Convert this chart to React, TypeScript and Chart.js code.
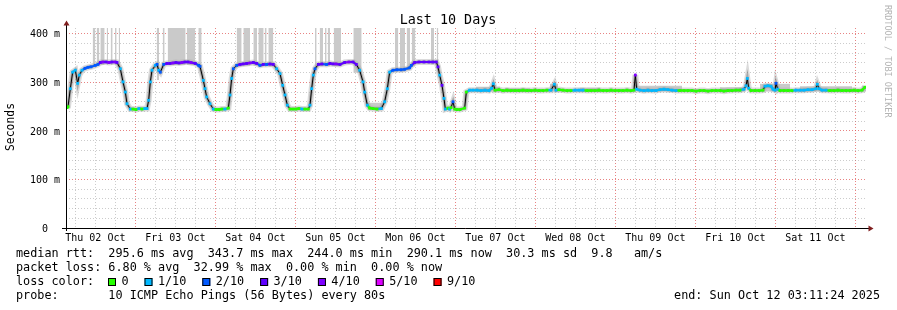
import React, { useEffect, useRef } from "react";
import { Chart, registerables } from "chart.js";

Chart.register(...registerables);

const FONT = "'DejaVu Sans Mono', monospace";

const TITLE = "Last 10 Days";
const Y_TITLE = "Seconds";
const WATERMARK = "RRDTOOL / TOBI OETIKER";
const SPAN_HOURS = 240;
const START_HOUR_OF_DAY = 3.19; // Thu 02 Oct 03:11:24
const Y_MAX = 412;
const Y_TICK_STEP = 20;
const Y_LABEL_STEP = 100;
const Y_LABEL_MAX = 400;
const DAY_LABELS = [
  "Thu 02 Oct", "Fri 03 Oct", "Sat 04 Oct", "Sun 05 Oct", "Mon 06 Oct",
  "Tue 07 Oct", "Wed 08 Oct", "Thu 09 Oct", "Fri 10 Oct", "Sat 11 Oct", "Sun 12 Oct",
];

// median RTT (ms) at hours since start, with loss level (index into LOSS_COLORS)
const MEDIAN_HOURS = [
  0.3, 0.6, 1.3, 2.0, 2.8, 3.5, 4.0, 4.8, 5.7, 6.6, 7.5, 8.8, 9.6, 10.3, 11.1, 12.0, 12.9, 13.8, 14.7, 15.3,
  16.3, 17.1, 17.8, 18.3, 19.3, 20.1, 21.0, 21.9, 22.8, 23.7, 24.3, 24.8, 25.3, 25.8, 26.8, 27.3, 27.8, 28.3, 29.3, 30.3,
  31.2, 32.1, 33.0, 33.9, 34.8, 35.7, 36.6, 37.5, 38.8, 39.8, 40.2, 41.2, 41.7, 42.2, 43.2, 44.2, 45.0, 45.9, 46.8, 47.7,
  48.7, 49.2, 49.7, 50.2, 51.2, 52.2, 53.1, 54.2, 55.2, 56.2, 57.2, 58.2, 59.2, 60.2, 61.2, 62.2, 63.2, 64.2, 65.0, 65.7,
  66.4, 67.2, 68.1, 69.0, 69.9, 70.8, 71.7, 72.7, 73.2, 73.7, 74.2, 74.7, 75.7, 76.8, 78.2, 79.2, 80.1, 81.0, 82.2, 83.6,
  84.9, 86.1, 87.1, 88.1, 89.1, 89.6, 90.4, 91.1, 92.1, 93.3, 94.6, 95.6, 96.4, 97.1, 98.1, 99.3, 100.5, 101.6, 103.1, 103.6,
  104.6, 105.9, 107.4, 108.9, 110.1, 111.1, 111.6, 112.1, 112.8, 113.4, 113.8, 114.6, 115.1, 115.5, 116.1, 116.6, 117.3, 118.2, 119.6, 120.1,
  121.1, 122.1, 123.3, 124.5, 125.7, 126.9, 127.7, 128.2, 128.7, 129.9, 131.1, 132.3, 133.5, 134.7, 135.9, 137.1, 138.3, 139.5, 140.7, 141.9,
  143.1, 144.3, 145.5, 146.5, 147.0, 147.9, 149.1, 150.3, 151.5, 152.7, 153.9, 155.1, 156.3, 157.5, 158.7, 159.9, 161.1, 162.3, 163.5, 164.7,
  165.9, 167.1, 168.3, 169.5, 170.4, 170.8, 171.2, 172.2, 173.4, 174.6, 175.8, 177.0, 178.2, 179.4, 180.6, 181.8, 183.0, 184.2, 185.4, 186.6,
  187.8, 189.0, 190.2, 191.4, 192.6, 193.8, 195.0, 196.2, 197.4, 198.6, 199.8, 201.0, 202.2, 203.4, 204.0, 204.4, 204.8, 205.5, 206.7, 207.9,
  209.1, 209.7, 210.6, 211.5, 212.1, 212.7, 213.0, 213.5, 214.2, 215.4, 216.6, 217.8, 219.0, 220.2, 221.4, 222.6, 223.8, 225.0, 225.4, 225.9,
  226.8, 228.0, 229.2, 230.4, 231.6, 232.8, 234.0, 235.2, 236.4, 237.6, 238.8, 239.7,
];
const MEDIAN_MS = [
  248, 250, 287, 321, 325, 298, 315, 325, 329, 331, 332, 335, 337, 341, 342, 342, 341, 342, 342, 341,
  328, 301, 280, 256, 245, 245, 244, 246, 245, 246, 246, 263, 301, 325, 335, 337, 325, 321, 337, 339,
  339, 340, 341, 340, 341, 342, 342, 341, 339, 335, 333, 304, 287, 270, 256, 245, 244, 244, 245, 245,
  247, 274, 308, 328, 335, 337, 338, 339, 340, 341, 339, 335, 337, 337, 338, 337, 328, 318, 294, 274,
  253, 245, 245, 245, 246, 245, 245, 245, 253, 287, 315, 328, 337, 338, 337, 339, 338, 338, 337, 341,
  342, 342, 337, 325, 301, 280, 253, 247, 246, 245, 246, 260, 287, 321, 325, 326, 326, 327, 330, 335,
  341, 342, 342, 342, 342, 342, 332, 315, 294, 267, 245, 247, 245, 248, 260, 245, 244, 244, 247, 280,
  284, 284, 284, 283, 284, 283, 288, 297, 284, 285, 283, 284, 283, 283, 283, 284, 283, 283, 284, 283,
  283, 284, 284, 296, 284, 285, 284, 283, 283, 284, 284, 284, 283, 283, 283, 284, 283, 283, 284, 283,
  283, 283, 284, 283, 284, 315, 286, 284, 283, 284, 283, 283, 285, 286, 285, 284, 283, 283, 283, 283,
  283, 282, 283, 283, 282, 283, 283, 283, 282, 283, 283, 284, 284, 286, 293, 308, 288, 283, 283, 283,
  284, 292, 293, 292, 286, 284, 298, 286, 283, 283, 283, 283, 284, 284, 284, 285, 285, 287, 296, 287,
  284, 284, 283, 283, 284, 283, 283, 283, 284, 283, 284, 290,
];
const MEDIAN_LOSS = [
  0, 0, 1, 1, 1, 1, 1, 1, 2, 2, 2, 2, 2, 3, 4, 3, 4, 3, 4, 3,
  1, 1, 1, 1, 1, 0, 0, 1, 0, 1, 1, 1, 1, 1, 1, 2, 1, 2, 2, 3,
  3, 4, 3, 3, 4, 3, 3, 4, 3, 2, 2, 1, 1, 1, 1, 1, 0, 0, 0, 1,
  0, 1, 1, 2, 2, 3, 3, 3, 4, 3, 3, 2, 3, 2, 3, 3, 1, 1, 1, 1,
  1, 0, 0, 0, 0, 1, 0, 0, 1, 1, 1, 2, 3, 3, 2, 3, 3, 4, 3, 3,
  4, 3, 3, 1, 1, 1, 1, 0, 0, 0, 1, 1, 1, 1, 2, 2, 2, 2, 2, 2,
  3, 3, 3, 3, 3, 3, 3, 1, 3, 1, 1, 0, 1, 0, 2, 0, 0, 0, 0, 0,
  1, 1, 1, 1, 1, 1, 1, 1, 0, 0, 0, 0, 0, 0, 0, 0, 0, 0, 0, 0,
  0, 0, 1, 1, 1, 0, 0, 0, 0, 1, 1, 1, 0, 0, 0, 0, 0, 0, 0, 0,
  0, 0, 0, 0, 0, 4, 1, 1, 1, 1, 1, 1, 1, 1, 1, 1, 1, 0, 0, 0,
  0, 0, 0, 0, 0, 0, 0, 0, 0, 0, 0, 0, 0, 1, 1, 1, 1, 0, 0, 0,
  0, 1, 1, 1, 1, 1, 2, 1, 0, 0, 0, 0, 1, 1, 1, 1, 1, 1, 1, 1,
  1, 1, 0, 0, 0, 0, 0, 0, 0, 0, 0, 0,
];

// smoke (spread of the 10 pings): hour span and ms range
const SMOKE_START = [
  8.0, 9.2, 10.3, 12.2, 13.4, 14.7, 15.8,
  27.2, 29.0, 30.5, 36.2, 39.7,
  51.2, 53.2, 56.2, 57.7, 59.6, 60.7,
  74.7, 76.1, 77.7, 78.5, 80.3, 86.2,
  90.4,
  98.7, 100.2, 102.2, 103.7, 109.5, 111.2,
  123.0, 131.7, 145.2, 154.2, 171.3, 196.2, 208.2, 220.2, 238.8,
];
const SMOKE_END = [
  8.8, 10.0, 11.6, 12.6, 14.0, 15.2, 16.2,
  27.9, 29.6, 35.9, 38.8, 40.7,
  52.7, 55.2, 57.3, 59.3, 60.2, 62.2,
  75.2, 77.1, 78.2, 79.2, 82.5, 88.7,
  95.0,
  99.7, 101.7, 103.2, 104.8, 110.4, 111.7,
  130.2, 139.2, 147.6, 160.2, 184.8, 203.7, 217.2, 235.8, 240.0,
];
const SMOKE_LOW = [
  335, 335, 336, 336, 336, 336, 330,
  305, 333, 336, 336, 328,
  332, 334, 334, 332, 332, 332,
  325, 333, 333, 333, 333, 320,
  244,
  322, 322, 325, 333, 337, 325,
  281, 281, 281, 281, 281, 281, 281, 281, 281,
];
const SMOKE_HIGH = [
  412, 412, 412, 412, 412, 412, 412,
  412, 412, 412, 412, 412,
  412, 412, 412, 412, 412, 412,
  412, 412, 412, 412, 412, 412,
  258,
  412, 412, 412, 412, 412, 412,
  291, 288, 297, 289, 293, 290, 297, 292, 293,
];

const LOSS_LABELS = ["0", "1/10", "2/10", "3/10", "4/10", "5/10", "9/10"];
const LOSS_COLORS = ["#26ff00", "#00b8ff", "#0059ff", "#5e00ff", "#7e00ff", "#dd00ff", "#ff0000"];

const LEGEND_RTT = "median rtt:  295.6 ms avg  343.7 ms max  244.0 ms min  290.1 ms now  30.3 ms sd  9.8   am/s";
const LEGEND_LOSS = "packet loss: 6.80 % avg  32.99 % max  0.00 % min  0.00 % now";
const LEGEND_LOSS_COLOR = "loss color:";
const LEGEND_PROBE = "probe:       10 ICMP Echo Pings (56 Bytes) every 80s";
const LEGEND_END = "end: Sun Oct 12 03:11:24 2025";

const MAJOR_GRID = "rgba(222,79,79,0.7)";
const MINOR_GRID = "rgba(143,143,143,0.45)";

function hourOfDay(h: number) {
  return Math.round((((h + START_HOUR_OF_DAY) % 24) + 24) % 24);
}

const decorPlugin = {
  id: "rrdDecor",
  afterDraw(chart: any) {
    const ctx = chart.ctx;
    const { left, right, top, bottom } = chart.chartArea;
    ctx.save();
    // title
    ctx.fillStyle = "#000";
    ctx.font = `13.4px ${FONT}`;
    ctx.textAlign = "center";
    ctx.textBaseline = "alphabetic";
    ctx.fillText(TITLE, 448, 24);
    // y title
    ctx.save();
    ctx.translate(11, 127);
    ctx.rotate(-Math.PI / 2);
    ctx.font = `11.4px ${FONT}`;
    ctx.textBaseline = "middle";
    ctx.fillText(Y_TITLE, 0, 0);
    ctx.restore();
    // axes
    ctx.strokeStyle = "#000";
    ctx.lineWidth = 1;
    ctx.beginPath();
    ctx.moveTo(left + 0.5, bottom + 3);
    ctx.lineTo(left + 0.5, top - 4);
    ctx.moveTo(left - 4, bottom + 0.5);
    ctx.lineTo(right + 3, bottom + 0.5);
    ctx.stroke();
    ctx.fillStyle = "rgb(128,31,31)";
    ctx.beginPath();
    ctx.moveTo(left + 0.5, top - 7.5);
    ctx.lineTo(left - 2.5, top - 2.5);
    ctx.lineTo(left + 3.5, top - 2.5);
    ctx.closePath();
    ctx.fill();
    ctx.beginPath();
    ctx.moveTo(right + 7.5, bottom + 0.5);
    ctx.lineTo(right + 2.5, bottom - 2.5);
    ctx.lineTo(right + 2.5, bottom + 3.5);
    ctx.closePath();
    ctx.fill();
    // legend
    ctx.fillStyle = "#000";
    ctx.font = `11.8px ${FONT}`;
    ctx.textAlign = "left";
    ctx.textBaseline = "middle";
    ctx.fillText(LEGEND_RTT, 16, 254);
    ctx.fillText(LEGEND_LOSS, 16, 268);
    ctx.fillText(LEGEND_LOSS_COLOR, 16, 282);
    ctx.fillText(LEGEND_PROBE, 16, 296);
    let x = 108;
    LOSS_LABELS.forEach((lab, i) => {
      ctx.fillStyle = LOSS_COLORS[i];
      ctx.fillRect(x, 278, 8, 8);
      ctx.strokeStyle = "#000";
      ctx.strokeRect(x + 0.5, 278.5, 7, 7);
      ctx.fillStyle = "#000";
      ctx.fillText(lab, x + 13.4, 282);
      x += 13.4 + ctx.measureText(lab).width + 16;
    });
    ctx.textAlign = "right";
    ctx.fillText(LEGEND_END, 880, 296);
    // watermark
    ctx.save();
    ctx.translate(887, 5);
    ctx.rotate(Math.PI / 2);
    ctx.font = `8.5px ${FONT}`;
    ctx.fillStyle = "#b4b4b4";
    ctx.textAlign = "left";
    ctx.textBaseline = "middle";
    ctx.fillText(WATERMARK, 0, 0);
    ctx.restore();
    ctx.restore();
  },
};

export default function App() {
  const ref = useRef<HTMLCanvasElement>(null);
  useEffect(() => {
    document.body.style.margin = "0";
    const canvas = ref.current!;
    const median = MEDIAN_HOURS.map((h, i) => ({ x: h, y: MEDIAN_MS[i] }));
    const smokeTop: any[] = [];
    const smokeBottom: any[] = [];
    SMOKE_START.forEach((s, i) => {
      smokeTop.push({ x: s, y: SMOKE_HIGH[i] }, { x: SMOKE_END[i], y: SMOKE_HIGH[i] }, { x: SMOKE_END[i], y: null });
      smokeBottom.push({ x: s, y: SMOKE_LOW[i] }, { x: SMOKE_END[i], y: SMOKE_LOW[i] }, { x: SMOKE_END[i], y: null });
    });
    const firstTick = (6 - (START_HOUR_OF_DAY % 6)) % 6;
    const flat = (c: any) => Math.abs(c.p0.y - c.p1.y) <= 3;

    const chart = new Chart(canvas, {
      type: "line",
      data: {
        datasets: [
          {
            data: median,
            order: 0,
            borderColor: "#000",
            borderWidth: 1,
            pointStyle: "rect",
            pointRadius: 2,
            pointBorderWidth: 0,
            pointBackgroundColor: MEDIAN_LOSS.map((l) => LOSS_COLORS[l]),
            fill: false,
            segment: {
              borderColor: (c: any) => (flat(c) ? LOSS_COLORS[MEDIAN_LOSS[c.p1DataIndex]] : "#000"),
              borderWidth: (c: any) => (flat(c) ? 2 : 1),
            },
          } as any,
          {
            data: median,
            order: 1,
            borderColor: "rgba(105,105,105,0.45)",
            borderWidth: 3,
            pointRadius: 0,
            fill: false,
          },
          {
            data: median,
            order: 2,
            borderColor: "rgba(175,175,175,0.45)",
            borderWidth: 6,
            pointRadius: 0,
            fill: false,
          },
          {
            data: smokeTop,
            order: 3,
            borderColor: "transparent",
            borderWidth: 0,
            pointRadius: 0,
            backgroundColor: "#cacaca",
            fill: "+1",
            spanGaps: false,
          },
          {
            data: smokeBottom,
            order: 4,
            borderColor: "transparent",
            borderWidth: 0,
            pointRadius: 0,
            fill: false,
            spanGaps: false,
          },
        ],
      },
      options: {
        responsive: false,
        animation: false,
        devicePixelRatio: 1,
        layout: { padding: { left: 0, right: 31, top: 28, bottom: 62 } },
        plugins: { legend: { display: false }, tooltip: { enabled: false } },
        scales: {
          x: {
            type: "linear",
            min: 0,
            max: SPAN_HOURS,
            afterBuildTicks: (s: any) => {
              const t: any[] = [];
              for (let v = firstTick; v <= SPAN_HOURS; v += 6) t.push({ value: v });
              s.ticks = t;
            },
            afterFit: (s: any) => {
              s.height = 20;
            },
            grid: {
              color: (c: any) => (c.tick && hourOfDay(c.tick.value) % 24 === 0 ? MAJOR_GRID : MINOR_GRID),
              lineWidth: 1,
              drawTicks: false,
            },
            border: { display: false, dash: [1, 2] },
            ticks: {
              autoSkip: false,
              maxRotation: 0,
              padding: 4,
              color: "#000",
              font: { family: FONT, size: 10 },
              callback: (v: any) => {
                const value = Number(v);
                if (hourOfDay(value) !== 12) return "";
                return DAY_LABELS[Math.floor((value + START_HOUR_OF_DAY) / 24)];
              },
            },
          },
          y: {
            min: 0,
            max: Y_MAX,
            afterBuildTicks: (s: any) => {
              const t: any[] = [];
              for (let v = 0; v <= Y_LABEL_MAX; v += Y_TICK_STEP) t.push({ value: v });
              s.ticks = t;
            },
            afterFit: (s: any) => {
              s.width = 66;
            },
            grid: {
              color: (c: any) => (c.tick && c.tick.value % Y_LABEL_STEP === 0 ? MAJOR_GRID : MINOR_GRID),
              lineWidth: 1,
              drawTicks: false,
            },
            border: { display: false, dash: [1, 2] },
            ticks: {
              autoSkip: false,
              padding: 6,
              labelOffset: 1,
              color: "#000",
              font: { family: FONT, size: 10 },
              callback: (v: any) => {
                const value = Number(v);
                if (value % Y_LABEL_STEP !== 0) return "";
                return value === 0 ? "0  " : `${value} m`;
              },
            },
          },
        },
      },
      plugins: [decorPlugin],
    });
    return () => chart.destroy();
  }, []);
  return (
    <div style={{ width: 897, height: 310, background: "#fff" }}>
      <canvas ref={ref} width={897} height={310} />
    </div>
  );
}
